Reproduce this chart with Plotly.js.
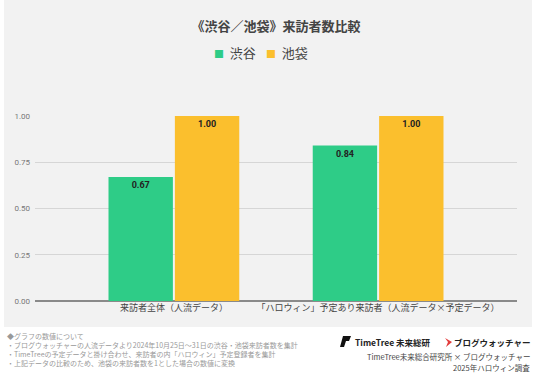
<!DOCTYPE html>
<html><head><meta charset="utf-8">
<script src="https://cdn.plot.ly/plotly-3.0.1.min.js"></script>
<style>html,body{margin:0;padding:0;background:#fff}#chart{width:536px;height:376px}</style>
</head><body><div id="chart"></div>
<script>
const categories = ['来訪者全体（人流データ）', '「ハロウィン」予定あり来訪者（人流データ×予定データ）'];
const seriesNames = ['渋谷', '池袋'];
const shibuya = [0.67, 0.84];
const ikebukuro = [1.00, 1.00];
const yTicks = [0, 0.25, 0.5, 0.75, 1.0];
const yTickLabels = ['0.00', '0.25', '0.50', '0.75', '1.00'];
const notes = ['◆グラフの数値について',
  '・ブログウォッチャーの人流データより2024年10月25日～31日の渋谷・池袋来訪者数を集計',
  '・TimeTreeの予定データと掛け合わせ、来訪者の内「ハロウィン」予定登録者を集計',
  '・上記データの比較のため、池袋の来訪者数を1とした場合の数値に変換'];
const credit1 = 'TimeTree未来総合研究所 × ブログウォッチャー';
const credit2 = '2025年ハロウィン調査';

const colors = ['#2ecc87', '#fbbf2d'];
const F = "Roboto, 'Noto Sans CJK JP', sans-serif";
const JP = "'Noto Sans CJK JP', sans-serif";

// pixel helpers (plot area: x 35..517, y 116..301)
const L = 35, R = 517, T = 116, B = 301;
const px = x => (x - L) / (R - L);
const py = y => (B - y) / (B - T);

const fmt = v => v.toFixed(2);
const traces = [
  {type: 'bar', name: seriesNames[0], x: categories, y: shibuya, marker: {color: colors[0]},
   text: shibuya.map(fmt), textposition: 'inside', insidetextanchor: 'end',
   textfont: {family: F, size: 9, color: '#222', weight: 'bold'}},
  {type: 'bar', name: seriesNames[1], x: categories, y: ikebukuro, marker: {color: colors[1]},
   text: ikebukuro.map(fmt), textposition: 'inside', insidetextanchor: 'end',
   textfont: {family: F, size: 9, color: '#222', weight: 'bold'}}
];

const legendAnn = seriesNames.map((n, i) => ({
  xref: 'paper', yref: 'paper', x: px([212, 264][i]), y: py(53), xanchor: 'left', yanchor: 'middle',
  text: `<span style="color:${colors[i]};font-size:10px">■</span>  ${n}`, showarrow: false,
  font: {family: JP, size: 13, color: '#444'}
}));

const layout = {
  width: 536, height: 376,
  margin: {l: L, r: 536 - R, t: T, b: 376 - B, pad: 0},
  paper_bgcolor: '#ffffff', plot_bgcolor: 'rgba(0,0,0,0)',
  font: {family: F, color: '#444'},
  title: {text: '《渋谷／池袋》来訪者数比較', x: 0.5, xref: 'paper', xanchor: 'center',
          y: 1 - 26 / 376, yanchor: 'middle', yref: 'container',
          font: {family: JP, size: 13, color: '#444', weight: 'bold'}},
  showlegend: false,
  barmode: 'group', bargap: 0.35, bargroupgap: 0.03,
  xaxis: {type: 'category', range: [-0.68, 1.68], showgrid: false, zeroline: false,
          showline: false, ticks: '', tickfont: {family: JP, size: 9, color: '#444'}, fixedrange: true},
  yaxis: {range: [0, 1.0], tickvals: yTicks, ticktext: yTickLabels, showgrid: true,
          gridcolor: '#d6d6d6', gridwidth: 1, zeroline: true, zerolinecolor: '#8a8a8a', zerolinewidth: 2,
          tickfont: {family: F, size: 8, color: '#777'}, ticks: '', ticklabelstandoff: 4, fixedrange: true},
  shapes: [
    {type: 'rect', xref: 'paper', yref: 'paper', x0: px(4), x1: px(532), y0: py(327), y1: py(0),
     fillcolor: '#f2f2f2', line: {width: 0}, layer: 'below'},
    // TimeTree mark
    {type: 'path', xref: 'paper', yref: 'paper', fillcolor: '#111', line: {width: 0},
     path: `M ${px(340)} ${py(347)} L ${px(343)} ${py(336)} L ${px(351)} ${py(336)} L ${px(349)} ${py(341)} L ${px(346)} ${py(341)} L ${px(344)} ${py(347)} Z`},
    // BlogWatcher mark
    {type: 'path', xref: 'paper', yref: 'paper', fillcolor: '#e23b3b', line: {width: 0},
     path: `M ${px(445)} ${py(338)} L ${px(452)} ${py(342)} L ${px(446)} ${py(347)} L ${px(448)} ${py(342)} Z`}
  ],
  annotations: legendAnn.concat([
    {xref: 'paper', yref: 'paper', x: px(5), y: py(329), xanchor: 'left', yanchor: 'top', align: 'left',
     text: notes.join('<br>'), showarrow: false,
     font: {family: JP, size: 7, color: '#999'}},
    {xref: 'paper', yref: 'paper', x: px(353), y: py(342), xanchor: 'left', yanchor: 'middle',
     text: '<b>TimeTree 未来総研</b>', showarrow: false, font: {family: JP, size: 8.5, color: '#222'}},
    {xref: 'paper', yref: 'paper', x: px(532), y: py(342), xanchor: 'right', yanchor: 'middle',
     text: '<b>ブログウォッチャー</b>', showarrow: false, font: {family: JP, size: 8.5, color: '#222'}},
    {xref: 'paper', yref: 'paper', x: px(532), y: py(356), xanchor: 'right', yanchor: 'middle',
     text: credit1, showarrow: false, font: {family: JP, size: 7.5, color: '#444'}},
    {xref: 'paper', yref: 'paper', x: px(532), y: py(367), xanchor: 'right', yanchor: 'middle',
     text: credit2, showarrow: false, font: {family: JP, size: 7.5, color: '#444'}}
  ])
};

Plotly.newPlot('chart', traces, layout, {displayModeBar: false, staticPlot: true});
</script></body></html>
